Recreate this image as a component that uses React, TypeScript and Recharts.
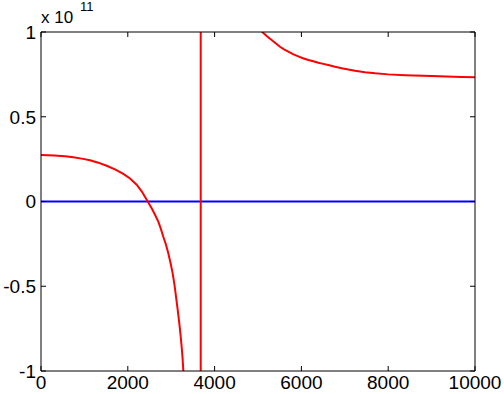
import { LineChart, Line, XAxis, YAxis } from "recharts";

// values, y in units of 1e11
const redX = [
  0, 300, 553, 745, 937, 1130, 1321, 1513, 1705, 1897, 2051, 2204, 2320,
  2460, 2550, 2627, 2703, 2760, 2818, 2880, 2933, 2985, 3034, 3075, 3111,
  3150, 3187, 3215, 3241, 3262, 3280, 3400, 3550, 3680, 3680, 3800, 4200,
  4600, 4900, 5000, 5100, 5200, 5315, 5415, 5507, 5600, 5699, 5806, 5929,
  6037, 6160, 6275, 6390, 6505, 6620, 6775, 6930, 7080, 7235, 7465, 7700,
  8000, 8390, 9000, 9690, 10000,
];
const redY = [
  0.274, 0.272, 0.267, 0.261, 0.253, 0.243, 0.229, 0.211, 0.19, 0.163,
  0.136, 0.099, 0.06, 0, -0.04, -0.078, -0.119, -0.16, -0.208, -0.255,
  -0.306, -0.363, -0.424, -0.49, -0.561, -0.64, -0.719, -0.785, -0.857,
  -0.925, -1.0, -1.5, -3, -60, 60, 8, 2.2, 1.4, 1.07, 1.03, 1.0, 0.976,
  0.953, 0.932, 0.913, 0.898, 0.884, 0.869, 0.856, 0.845, 0.835, 0.827,
  0.819, 0.812, 0.805, 0.795, 0.786, 0.779, 0.772, 0.763, 0.756, 0.75,
  0.745, 0.74, 0.735, 0.733,
];
const blueX = [0, 10000];
const blueY = [0, 0];

const xTicks = [0, 2000, 4000, 6000, 8000, 10000];
const yTicks = [-1, -0.5, 0, 0.5, 1];

const redData = redX.map((x, i) => ({ x, y: redY[i] }));
const blueData = blueX.map((x, i) => ({ x, y: blueY[i] }));

const FONT = "'Liberation Sans', Arial, sans-serif";

const BottomTick = ({ x, y, payload }: any) => (
  <g>
    <line x1={x} y1={y} x2={x} y2={y - 5} stroke="#000" />
    <text x={x} y={y + 18} textAnchor="middle" fontSize={19} fontFamily={FONT} fill="#000">
      {payload.value}
    </text>
  </g>
);

const TopTick = ({ x, y }: any) => (
  <line x1={x} y1={y} x2={x} y2={y + 5} stroke="#000" />
);

const LeftTick = ({ x, y, payload }: any) => (
  <g>
    <line x1={x} y1={y} x2={x + 5} y2={y} stroke="#000" />
    <text x={x - 5} y={y} dy="0.36em" textAnchor="end" fontSize={19} fontFamily={FONT} fill="#000">
      {payload.value}
    </text>
  </g>
);

const RightTick = ({ x, y }: any) => (
  <line x1={x} y1={y} x2={x - 5} y2={y} stroke="#000" />
);

export default function App() {
  return (
    <div style={{ position: "absolute", left: 0, top: 0, width: 504, height: 394, background: "#fff" }}>
      <LineChart width={504} height={394} margin={{ top: 0, right: 0, bottom: 0, left: 0 }}>
        <XAxis
          xAxisId="b"
          dataKey="x"
          type="number"
          domain={[0, 10000]}
          ticks={xTicks}
          allowDataOverflow
          height={23}
          tickSize={0}
          tickMargin={0}
          tickLine={false}
          axisLine={{ stroke: "#000" }}
          tick={<BottomTick />}
          interval={0}
        />
        <XAxis
          xAxisId="t"
          orientation="top"
          dataKey="x"
          type="number"
          domain={[0, 10000]}
          ticks={xTicks}
          allowDataOverflow
          height={32}
          tickSize={0}
          tickMargin={0}
          tickLine={false}
          axisLine={{ stroke: "#000" }}
          tick={<TopTick />}
          interval={0}
        />
        <YAxis
          yAxisId="l"
          type="number"
          domain={[-1, 1]}
          ticks={yTicks}
          allowDataOverflow
          width={41}
          tickSize={0}
          tickMargin={0}
          tickLine={false}
          axisLine={{ stroke: "#000" }}
          tick={<LeftTick />}
          interval={0}
        />
        <YAxis
          yAxisId="r"
          orientation="right"
          type="number"
          domain={[-1, 1]}
          ticks={yTicks}
          allowDataOverflow
          width={29}
          tickSize={0}
          tickMargin={0}
          tickLine={false}
          axisLine={{ stroke: "#000" }}
          tick={<RightTick />}
          interval={0}
        />
        <Line
          xAxisId="b"
          yAxisId="l"
          data={blueData}
          dataKey="y"
          stroke="#0000ff"
          strokeWidth={2}
          dot={false}
          isAnimationActive={false}
        />
        <Line
          xAxisId="b"
          yAxisId="l"
          data={redData}
          dataKey="y"
          stroke="#ff0000"
          strokeWidth={2}
          dot={false}
          isAnimationActive={false}
        />
      </LineChart>
      <div style={{ position: "absolute", left: 41, top: 9, fontFamily: FONT, fontSize: 17, lineHeight: "17px", color: "#000", whiteSpace: "nowrap" }}>
        x 10
      </div>
      <div style={{ position: "absolute", left: 80, top: 0, fontFamily: FONT, fontSize: 13, lineHeight: "13px", color: "#000" }}>
        11
      </div>
    </div>
  );
}
